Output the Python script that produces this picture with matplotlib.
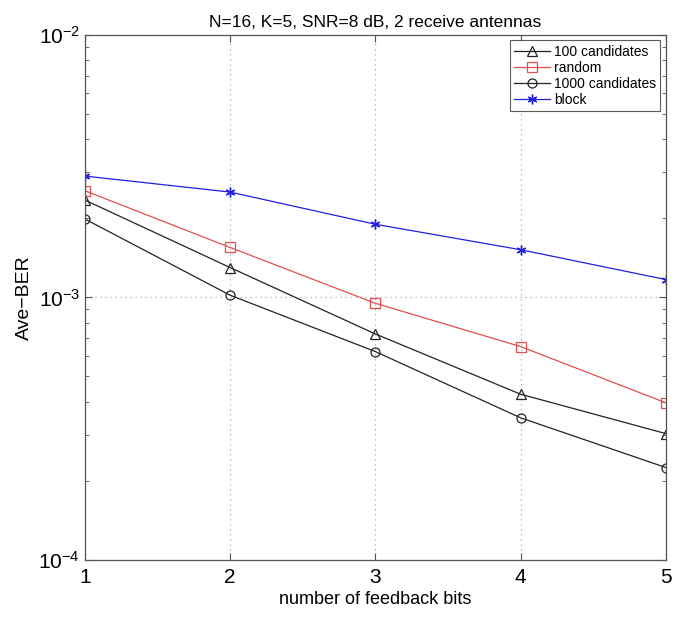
import matplotlib
matplotlib.use("Agg")
import matplotlib.pyplot as plt
from matplotlib.ticker import LogLocator, NullFormatter, FixedLocator

plt.rcParams['font.family'] = ['Liberation Sans', 'DejaVu Sans']

bits = [1, 2, 3, 4, 5]
ber_100 = [2.35e-3, 1.30e-3, 7.26e-4, 4.28e-4, 3.03e-4]
ber_random = [2.55e-3, 1.55e-3, 9.5e-4, 6.5e-4, 3.97e-4]
ber_1000 = [1.99e-3, 1.02e-3, 6.22e-4, 3.48e-4, 2.25e-4]
ber_block = [2.90e-3, 2.52e-3, 1.90e-3, 1.52e-3, 1.17e-3]

title = "N=16, K=5, SNR=8 dB, 2 receive antennas"
xlabel = "number of feedback bits"
ylabel = "Ave\u2212BER"

fig = plt.figure(figsize=(6.9, 6.17), dpi=100)
ax = fig.add_axes([0.123, 0.0924, 0.842, 0.851])

lw = 0.9
ms = 6.5
ax.plot(bits, ber_100, color='#222222', lw=lw, marker='^', ms=ms, mfc='none', mec='#222222', mew=0.9, label='100 candidates')
ax.plot(bits, ber_random, color='#e05050', lw=lw, marker='s', ms=ms, mfc='none', mec='#e05050', mew=0.9, label='random')
ax.plot(bits, ber_1000, color='#222222', lw=lw, marker='o', ms=ms, mfc='none', mec='#222222', mew=0.9, label='1000 candidates')
ax.plot(bits, ber_block, color='#2020e0', lw=lw, marker=(6, 2, 0), ms=7, mec='#2020e0', mew=1.0, label='block')

ax.set_yscale('log')
ax.set_xlim(1, 5)
ax.set_ylim(1e-4, 1e-2)
ax.xaxis.set_major_locator(FixedLocator(bits))
ax.yaxis.set_major_locator(LogLocator(base=10, numticks=5))
ax.yaxis.set_minor_locator(LogLocator(base=10, subs=range(2, 10), numticks=20))
ax.yaxis.set_minor_formatter(NullFormatter())

ax.grid(True, which='major', linestyle=(0, (1, 3)), color='#aaaaaa', linewidth=0.9)
ax.tick_params(which='both', direction='in', top=True, right=True, labelsize=15, color='#555555')
ax.tick_params(axis='x', pad=6)
ax.tick_params(which='major', length=5)
ax.tick_params(which='minor', length=3)
for s in ax.spines.values():
    s.set_color('#555555')
    s.set_linewidth(0.9)

ax.set_title(title, fontsize=12.5, pad=6)
ax.set_xlabel(xlabel, fontsize=13, labelpad=3)
ax.set_ylabel(ylabel, fontsize=14, labelpad=4)

leg = ax.legend(loc='upper right', fontsize=10, frameon=True, fancybox=False,
                edgecolor='#333333', borderpad=0.3, labelspacing=0.15,
                handlelength=2.6, handletextpad=0.3, borderaxespad=0.4)
leg.get_frame().set_linewidth(0.8)

fig.savefig("out.png", dpi=100)
